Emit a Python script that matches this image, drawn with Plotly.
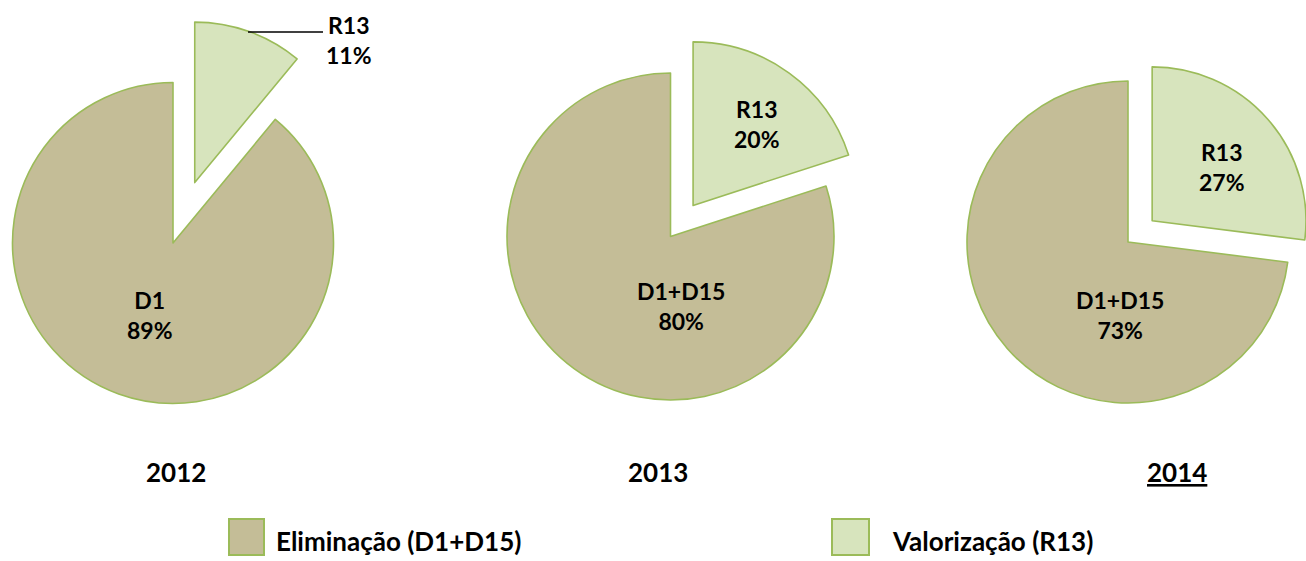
import math
import plotly.graph_objects as go

# ---------------- data ----------------
years = ["2012", "2013", "2014"]
disposal_labels = ["D1", "D1+D15", "D1+D15"]
recovery_labels = ["R13", "R13", "R13"]
disposal_pct = [89, 80, 73]
recovery_pct = [11, 20, 27]
legend_names = ["Eliminação (D1+D15)", "Valorização (R13)"]

# ---------------- layout parameters (pixels) ----------------
W, H = 1306, 561
TAN = "#C4BD97"
GREEN = "#D7E4BD"
EDGE = "#9BBB59"
CLEAR = "rgba(0,0,0,0)"
FONT = "Lato"

pie_centers = [(173, 243), (670.5, 236.5), (1128, 242)]
pie_radii = [160.5, 163.5, 161]
pulls = [0.40, 0.235, 0.20]
disp_label_pos = [(150, 315), (681, 306), (1120, 315)]
rec_label_pos = [(349, 40), (757, 124), (1222, 167)]
year_pos = [(175.5, 472), (658, 472), (1177, 472)]


def px(x):
    return x / W


def py(y):
    return 1 - y / H


def domain(cx, cy, r):
    r = min(r, cx, W - cx, cy, H - cy)
    return dict(x=[px(cx - r), px(cx + r)], y=[py(cy + r), py(cy - r)])


fig = go.Figure()
annotations = []
shapes = []

for i in range(3):
    vals = [recovery_pct[i], disposal_pct[i]]
    labs = [recovery_labels[i], disposal_labels[i]]
    cx, cy = pie_centers[i]
    R = pie_radii[i]
    common = dict(
        values=vals, labels=labs, sort=False, direction="clockwise", rotation=0,
        textinfo="none", showlegend=False, hoverinfo="label+percent",
    )
    # base pie: the disposal slice
    fig.add_trace(go.Pie(
        domain=domain(cx, cy, R),
        marker=dict(colors=[CLEAR, TAN], line=dict(color=[CLEAR, EDGE], width=[0, 1.6])),
        **common,
    ))
    # exploded recovery slice
    frac = vals[0] / sum(vals)
    mid = 2 * math.pi * frac / 2
    off = pulls[i] * R
    vx = cx + off * math.sin(mid)
    vy = cy - off * math.cos(mid)
    fig.add_trace(go.Pie(
        domain=domain(vx, vy, R),
        marker=dict(colors=[GREEN, CLEAR], line=dict(color=[EDGE, CLEAR], width=[1.6, 0])),
        **common,
    ))

    # data labels
    dx, dy = disp_label_pos[i]
    annotations.append(dict(
        x=px(dx), y=py(dy), xref="paper", yref="paper", showarrow=False,
        text=f"<b>{disposal_labels[i]}<br>{disposal_pct[i]}%</b>",
        font=dict(family=FONT, size=23, color="#000000"),
        xanchor="center", yanchor="middle", align="center",
    ))
    rx, ry = rec_label_pos[i]
    annotations.append(dict(
        x=px(rx), y=py(ry), xref="paper", yref="paper", showarrow=False,
        text=f"<b>{recovery_labels[i]}<br>{recovery_pct[i]}%</b>",
        font=dict(family=FONT, size=23, color="#000000"),
        xanchor="center", yanchor="middle", align="center",
    ))
    # year titles
    yx, yy = year_pos[i]
    ytxt = f"<b>{years[i]}</b>" if i < 2 else f"<b><u>{years[i]}</u></b>"
    annotations.append(dict(
        x=px(yx), y=py(yy), xref="paper", yref="paper", showarrow=False,
        text=ytxt, font=dict(family=FONT, size=26, color="#000000"),
        xanchor="center", yanchor="middle",
    ))

# leader line for the 2012 outside label
shapes.append(dict(type="line", xref="paper", yref="paper",
                   x0=px(248), y0=py(32), x1=px(323), y1=py(32),
                   line=dict(color="#000000", width=1.5)))

# legend (drawn manually for large swatches)
legend_swatches = [(229, 519, 264, 555), (832, 519, 869, 555)]
legend_text_x = [274, 890]
legend_colors = [TAN, GREEN]
for k in range(2):
    x0, y0, x1, y1 = legend_swatches[k]
    shapes.append(dict(type="rect", xref="paper", yref="paper",
                       x0=px(x0), y0=py(y1), x1=px(x1), y1=py(y0),
                       fillcolor=legend_colors[k], line=dict(color=EDGE, width=2)))
    annotations.append(dict(
        x=px(legend_text_x[k]), y=py(541), xref="paper", yref="paper", showarrow=False,
        text=f"<b>{legend_names[k]}</b>",
        font=dict(family=FONT, size=26, color="#000000"),
        xanchor="left", yanchor="middle",
    ))

fig.update_layout(
    width=W, height=H,
    margin=dict(l=0, r=0, t=0, b=0),
    paper_bgcolor="white", plot_bgcolor="white",
    annotations=annotations, shapes=shapes,
    showlegend=False,
)

fig.write_html(
    "out.html",
    config={"displayModeBar": False},
    post_script="document.body.style.margin='0';document.body.style.overflow='hidden';",
)
